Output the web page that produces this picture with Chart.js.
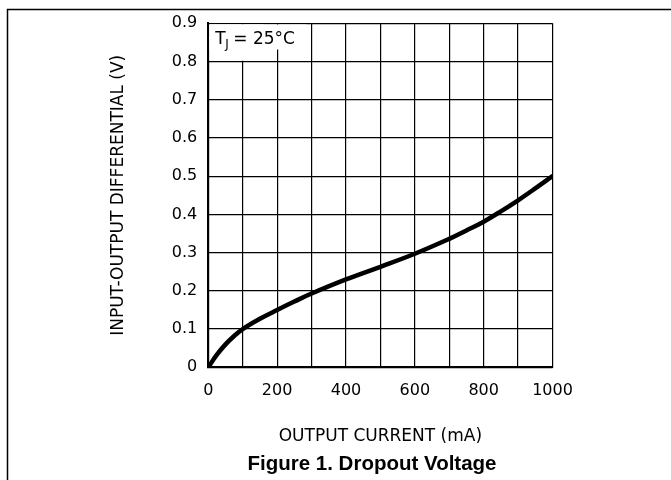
<!DOCTYPE html>
<html>
<head>
<meta charset="utf-8">
<script src="https://cdn.jsdelivr.net/npm/chart.js@4.4.1/dist/chart.umd.min.js"></script>
<style>
  html, body { margin: 0; padding: 0; background: #fff; }
  #wrap { width: 671px; height: 480px; position: relative; }
</style>
</head>
<body>
<div id="wrap"><canvas id="dropoutChart"></canvas></div>
<script>
// ── DATA ──
const currentMA = [0, 25, 50, 75, 100, 150, 200, 250, 300, 400, 500, 600, 700, 750, 800, 850, 900, 950, 1000];
const dropoutV  = [0, 0.033, 0.06, 0.082, 0.1, 0.127, 0.15, 0.172, 0.193, 0.23, 0.263, 0.297, 0.336, 0.358, 0.381, 0.408, 0.437, 0.468, 0.5];
const xTickLabels = ['0', '200', '400', '600', '800', '1000'];
const yTickLabels = ['0', '0.1', '0.2', '0.3', '0.4', '0.5', '0.6', '0.7', '0.8', '0.9'];
const captionText = 'Figure 1. Dropout Voltage';

const axisFont = "'DejaVu Sans', sans-serif";

// ── FRAME, CAPTION + TJ NOTE ──
const decorations = {
    id: 'decorations',
    beforeDatasetsDraw(chart) {
        const { ctx, chartArea: a } = chart;
        ctx.save();
        // white patch behind the note, hides part of the grid
        ctx.fillStyle = '#fff';
        ctx.fillRect(a.left + 1.2, a.top + 1.2, 54, 36.2);
        ctx.fillRect(a.left + 1.2, a.top + 1.2, 97, 25);

        ctx.fillStyle = '#000';
        ctx.textBaseline = 'alphabetic';
        ctx.font = "17px " + axisFont;
        ctx.fillText('T', a.left + 7, a.top + 21);
        ctx.font = "12px " + axisFont;
        ctx.fillText('J', a.left + 17, a.top + 25);
        ctx.font = "17px " + axisFont;
        ctx.fillText('= 25°C', a.left + 25, a.top + 21);
        ctx.restore();
    },
    afterDraw(chart) {
        const { ctx, width, height } = chart;
        ctx.save();
        ctx.strokeStyle = '#000';
        ctx.lineWidth = 1.5;
        ctx.beginPath();
        ctx.moveTo(7.5, height);
        ctx.lineTo(7.5, 9.5);
        ctx.lineTo(width, 9.5);
        ctx.stroke();

        ctx.fillStyle = '#000';
        ctx.font = "bold 20.5px 'Liberation Sans', Arial, sans-serif";
        ctx.textAlign = 'center';
        ctx.textBaseline = 'middle';
        ctx.fillText(captionText, 372, 464.5);
        ctx.restore();
    }
};

new Chart(document.getElementById('dropoutChart'), {
    type: 'line',
    data: {
        datasets: [{
            data: currentMA.map((x, i) => ({ x: x, y: dropoutV[i] })),
            borderColor: '#000',
            borderWidth: 4.5,
            borderCapStyle: 'round',
            borderJoinStyle: 'round',
            pointRadius: 0,
            fill: false,
            tension: 0.4
        }]
    },
    options: {
        responsive: true,
        maintainAspectRatio: false,
        animation: false,
        events: [],
        layout: {
            padding: { left: 0, top: 23.3, right: 118.5, bottom: 27.5 }
        },
        plugins: {
            legend: { display: false },
            tooltip: { enabled: false },
            title: { display: false }
        },
        scales: {
            x: {
                type: 'linear',
                min: 0,
                max: 1000,
                afterFit: (scale) => { scale.height = 85.2; },
                grid: { color: '#000', lineWidth: 1.2, drawTicks: false },
                border: { display: true, color: '#000', width: 2 },
                ticks: {
                    stepSize: 100,
                    autoSkip: false,
                    maxRotation: 0,
                    padding: 14,
                    color: '#000',
                    font: { family: axisFont, size: 16 },
                    callback: (v) => xTickLabels.includes(String(v)) ? String(v) : ''
                },
                title: {
                    display: true,
                    text: 'OUTPUT CURRENT (mA)',
                    color: '#000',
                    font: { family: axisFont, size: 17 },
                    padding: { top: 0, bottom: 5.5 }
                }
            },
            y: {
                type: 'linear',
                min: 0,
                max: 0.9,
                afterFit: (scale) => { scale.width = 208.3; },
                grid: { color: '#000', lineWidth: 1.2, drawTicks: false },
                border: { display: true, color: '#000', width: 2 },
                ticks: {
                    stepSize: 0.1,
                    padding: 11,
                    color: '#000',
                    font: { family: axisFont, size: 16 },
                    callback: (v) => yTickLabels[Math.round(v * 10)]
                },
                title: {
                    display: true,
                    text: 'INPUT-OUTPUT DIFFERENTIAL (V)',
                    color: '#000',
                    font: { family: axisFont, size: 17 },
                    padding: { top: 108.3, bottom: 0 }
                }
            }
        }
    },
    plugins: [decorations]
});
</script>
</body>
</html>
